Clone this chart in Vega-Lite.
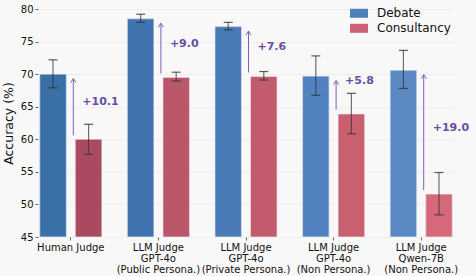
{
  "$schema": "https://vega.github.io/schema/vega-lite/v6.json",
  "width": 416,
  "height": 228,
  "autosize": {"type": "none"},
  "padding": {"left": 38, "top": 9, "right": 22, "bottom": 39},
  "background": "#f8f8f8",
  "config": {
    "view": {"stroke": null},
    "font": "DejaVu Sans",
    "axis": {"labelFont": "DejaVu Sans", "titleFont": "DejaVu Sans", "labelColor": "#111", "titleColor": "#111"},
    "axisY": {
      "titleFontSize": 12.5, "titleFontWeight": "normal", "titlePadding": 5,
      "labelFontSize": 10, "tickSize": 3, "tickColor": "#666", "labelPadding": 2, "labelOverlap": false,
      "domain": false, "grid": true, "gridColor": "#ebebeb", "gridWidth": 0.8
    },
    "axisX": {
      "labelAngle": 0, "domain": false, "tickSize": 3, "tickColor": "#666", "labelFontSize": 10,
      "labelLineHeight": 11, "labelPadding": 2, "labelBaseline": "top", "labelOverlap": false, "grid": false
    },
    "legend": {"labelFont": "DejaVu Sans"}
  },
  "datasets": {
    "bars": [
      {"group": "Human Judge", "method": "Debate", "key": "H-D", "value": 70.0, "lo": 67.9, "hi": 72.2},
      {"group": "Human Judge", "method": "Consultancy", "key": "H-C", "value": 60.0, "lo": 57.7, "hi": 62.3},
      {"group": "LLM Judge|GPT-4o|(Public Persona.)", "method": "Debate", "key": "P-D", "value": 78.5, "lo": 77.95, "hi": 79.2},
      {"group": "LLM Judge|GPT-4o|(Public Persona.)", "method": "Consultancy", "key": "P-C", "value": 69.5, "lo": 68.95, "hi": 70.3},
      {"group": "LLM Judge|GPT-4o|(Private Persona.)", "method": "Debate", "key": "V-D", "value": 77.3, "lo": 76.8, "hi": 77.95},
      {"group": "LLM Judge|GPT-4o|(Private Persona.)", "method": "Consultancy", "key": "V-C", "value": 69.65, "lo": 69.1, "hi": 70.4},
      {"group": "LLM Judge|GPT-4o|(Non Persona.)", "method": "Debate", "key": "N-D", "value": 69.7, "lo": 66.75, "hi": 72.8},
      {"group": "LLM Judge|GPT-4o|(Non Persona.)", "method": "Consultancy", "key": "N-C", "value": 63.9, "lo": 60.85, "hi": 67.05},
      {"group": "LLM Judge|Qwen-7B|(Non Persona.)", "method": "Debate", "key": "Q-D", "value": 70.6, "lo": 67.8, "hi": 73.65},
      {"group": "LLM Judge|Qwen-7B|(Non Persona.)", "method": "Consultancy", "key": "Q-C", "value": 51.6, "lo": 48.4, "hi": 54.9}
    ],
    "ann": [
      {"group": "Human Judge", "text": "+10.1", "cons": 60.0, "deb": 70.0, "label_at": 65.8},
      {"group": "LLM Judge|GPT-4o|(Public Persona.)", "text": "+9.0", "cons": 69.5, "deb": 78.5, "label_at": 74.7},
      {"group": "LLM Judge|GPT-4o|(Private Persona.)", "text": "+7.6", "cons": 69.65, "deb": 77.3, "label_at": 74.2},
      {"group": "LLM Judge|GPT-4o|(Non Persona.)", "text": "+5.8", "cons": 63.9, "deb": 69.7, "label_at": 69.0},
      {"group": "LLM Judge|Qwen-7B|(Non Persona.)", "text": "+19.0", "cons": 51.6, "deb": 70.6, "label_at": 61.8}
    ]
  },
  "layer": [
    {
      "data": {"name": "bars"},
      "mark": {"type": "bar"},
      "encoding": {
        "x": {
          "field": "group", "type": "nominal", "sort": null,
          "scale": {"paddingInner": 0.291, "paddingOuter": 0.02},
          "axis": {"title": null, "labelExpr": "split(datum.label, '|')"}
        },
        "xOffset": {"field": "method", "type": "nominal", "sort": ["Debate", "Consultancy"], "scale": {"paddingInner": 0.254, "paddingOuter": 0}},
        "y": {
          "field": "value", "type": "quantitative",
          "scale": {"domain": [45, 80], "nice": false, "zero": false},
          "axis": {"title": "Accuracy (%)", "tickCount": 7}
        },
        "y2": {"datum": 45},
        "color": {
          "field": "method", "type": "nominal",
          "scale": {"domain": ["Debate", "Consultancy"], "range": ["#5080bc", "#cc6174"]},
          "legend": {
            "title": null, "orient": "none", "legendX": 312, "legendY": -4.7, "padding": 0,
            "labelFontSize": 12, "labelColor": "#111", "symbolType": "M-1,-0.5H1V0.5H-1Z", "symbolSize": 324,
            "symbolStrokeWidth": 0, "labelOffset": 9, "rowPadding": 0
          }
        }
      }
    },
    {
      "data": {"name": "bars"},
      "mark": {"type": "bar", "stroke": "#ffffff", "strokeOpacity": 0.6, "strokeWidth": 1},
      "encoding": {
        "x": {"field": "group", "type": "nominal", "sort": null},
        "xOffset": {"field": "method", "type": "nominal", "sort": ["Debate", "Consultancy"]},
        "y": {"field": "value", "type": "quantitative"},
        "y2": {"datum": 45},
        "fill": {
          "field": "key", "type": "nominal",
          "scale": {
            "domain": ["H-D", "H-C", "P-D", "P-C", "V-D", "V-C", "N-D", "N-C", "Q-D", "Q-C"],
            "range": ["#3b6fa8", "#a94a61", "#4174ae", "#b9566a", "#4a7ab6", "#c25b6b", "#5283c0", "#c9606f", "#5b89c4", "#d5697a"]
          },
          "legend": null
        }
      }
    },
    {
      "data": {"name": "bars"},
      "mark": {"type": "rule", "color": "#333333", "opacity": 0.7, "strokeWidth": 1.2},
      "encoding": {
        "x": {"field": "group", "type": "nominal", "sort": null},
        "xOffset": {"field": "method", "type": "nominal", "sort": ["Debate", "Consultancy"]},
        "y": {"field": "lo", "type": "quantitative"},
        "y2": {"field": "hi"}
      }
    },
    {
      "data": {"name": "bars"},
      "mark": {"type": "tick", "color": "#333333", "opacity": 0.8, "thickness": 1.2, "size": 9, "orient": "horizontal"},
      "encoding": {
        "x": {"field": "group", "type": "nominal", "sort": null},
        "xOffset": {"field": "method", "type": "nominal", "sort": ["Debate", "Consultancy"]},
        "y": {"field": "lo", "type": "quantitative"}
      }
    },
    {
      "data": {"name": "bars"},
      "mark": {"type": "tick", "color": "#333333", "opacity": 0.8, "thickness": 1.2, "size": 9, "orient": "horizontal"},
      "encoding": {
        "x": {"field": "group", "type": "nominal", "sort": null},
        "xOffset": {"field": "method", "type": "nominal", "sort": ["Debate", "Consultancy"]},
        "y": {"field": "hi", "type": "quantitative"}
      }
    },
    {
      "data": {"name": "ann"},
      "mark": {"type": "rule", "color": "#7b5fb8", "strokeWidth": 1, "xOffset": 2.5, "yOffset": -4, "y2Offset": 4.5},
      "encoding": {
        "x": {"field": "group", "type": "nominal", "sort": null},
        "y": {"field": "cons", "type": "quantitative"},
        "y2": {"field": "deb"}
      }
    },
    {
      "data": {"name": "ann"},
      "mark": {"type": "point", "shape": "M-1.3,2L0,0L1.3,2", "size": 16, "filled": false, "stroke": "#7b5fb8", "strokeWidth": 1, "opacity": 1, "xOffset": 2.5, "yOffset": 4.5},
      "encoding": {
        "x": {"field": "group", "type": "nominal", "sort": null},
        "y": {"field": "deb", "type": "quantitative"}
      }
    },
    {
      "data": {"name": "ann"},
      "mark": {"type": "text", "align": "left", "baseline": "middle", "dx": 11.5, "fontSize": 11, "fontWeight": "bold", "color": "#6a4ea3"},
      "encoding": {
        "x": {"field": "group", "type": "nominal", "sort": null},
        "y": {"field": "label_at", "type": "quantitative"},
        "text": {"field": "text"}
      }
    }
  ]
}
